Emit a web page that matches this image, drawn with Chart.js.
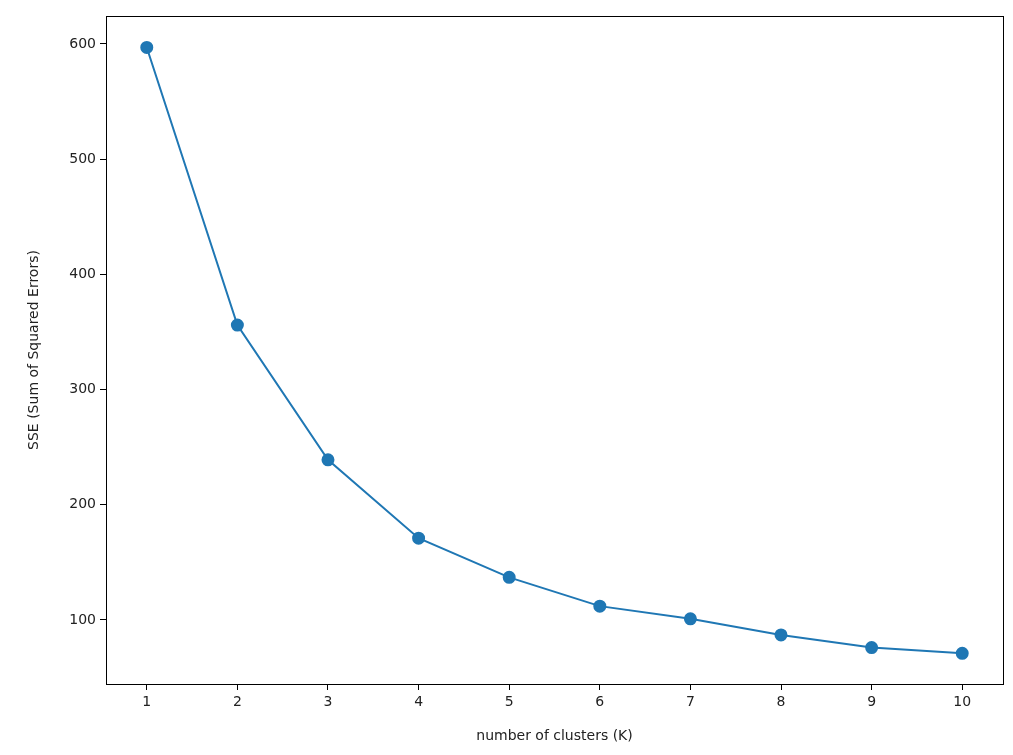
<!DOCTYPE html>
<html>
<head>
<meta charset="utf-8">
<script src="https://cdn.jsdelivr.net/npm/chart.js@4"></script>
<style>
  body { margin: 0; background: #fff; }
  #wrap { width: 1013px; height: 755px; }
</style>
</head>
<body>
<div id="wrap"><canvas id="elbow" width="1013" height="755"></canvas></div>
<script>
const clusters = [1, 2, 3, 4, 5, 6, 7, 8, 9, 10];
const sse = [597, 356, 239, 171, 137, 112, 101, 87, 76, 71];
const yTicks = [100, 200, 300, 400, 500, 600];

Chart.defaults.font.family = "DejaVu Sans";
Chart.defaults.font.size = 14;
Chart.defaults.color = "#222";

const frame = {
  id: "frame",
  afterDraw(chart) {
    const a = chart.chartArea, ctx = chart.ctx;
    ctx.save();
    ctx.strokeStyle = "#000";
    ctx.lineWidth = 1;
    ctx.strokeRect(a.left + 0.5, a.top + 0.5, a.right - a.left, a.bottom - a.top);
    ctx.restore();
  }
};

new Chart(document.getElementById("elbow").getContext("2d"), {
  type: "line",
  data: {
    datasets: [{
      data: clusters.map((k, i) => ({ x: k, y: sse[i] })),
      borderColor: "#1f77b4",
      backgroundColor: "#1f77b4",
      borderWidth: 2,
      pointRadius: 5.5,
      pointHoverRadius: 5.5,
      tension: 0
    }]
  },
  options: {
    responsive: false,
    animation: false,
    layout: { padding: { top: 16, right: 10, left: 0, bottom: 0 } },
    plugins: { legend: { display: false }, tooltip: { enabled: false } },
    scales: {
      x: {
        type: "linear", min: 0.55, max: 10.45,
        afterBuildTicks: s => { s.ticks = clusters.map(v => ({ value: v })); },
        afterFit: s => { s.height = 71; },
        grid: { drawOnChartArea: false, tickLength: 6, color: "#000" },
        border: { color: "#000" },
        ticks: { padding: 4 },
        title: { display: true, text: "number of clusters (K)", padding: { top: 0, bottom: 10 } }
      },
      y: {
        min: 44.4, max: 624.3,
        afterBuildTicks: s => { s.ticks = yTicks.map(v => ({ value: v })); },
        afterFit: s => { s.width = 106; },
        grid: { drawOnChartArea: false, tickLength: 6, color: "#000" },
        border: { color: "#000" },
        ticks: { padding: 4 },
        title: { display: true, text: "SSE (Sum of Squared Errors)", padding: { top: 26, bottom: 0 } }
      }
    }
  },
  plugins: [frame]
});
</script>
</body>
</html>
